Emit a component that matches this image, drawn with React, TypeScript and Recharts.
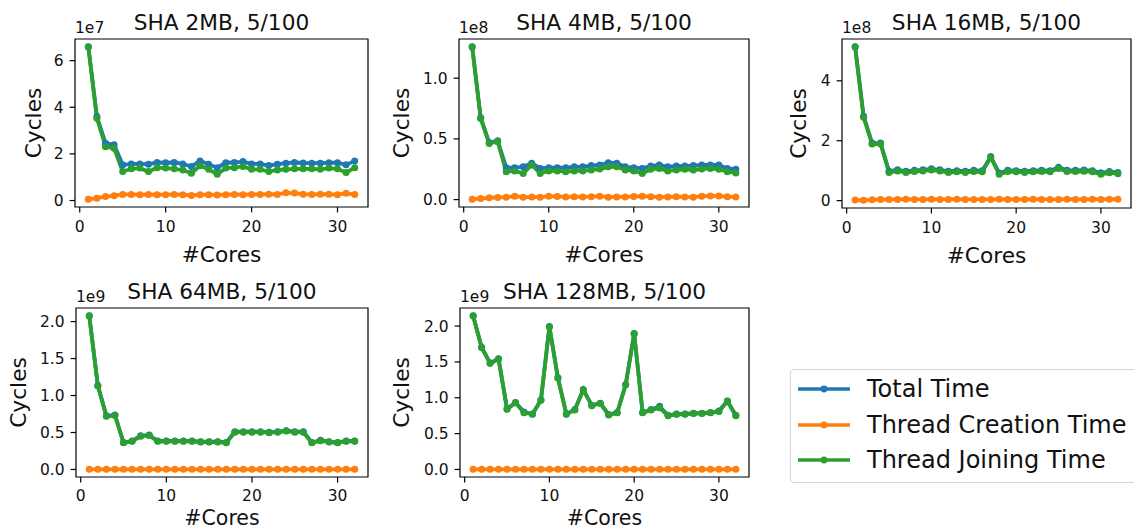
import { LineChart, Line, XAxis, YAxis, ReferenceArea } from "recharts"

// cores on the x axis, same for every panel
const cores = [1, 2, 3, 4, 5, 6, 7, 8, 9, 10, 11, 12, 13, 14, 15, 16, 17, 18, 19, 20, 21, 22, 23, 24, 25, 26, 27, 28, 29, 30, 31, 32]
const xTicks = [0, 10, 20, 30]

const seriesKeys = ["total", "creation", "joining"]
const seriesNames = ["Total Time", "Thread Creation Time", "Thread Joining Time"]
const seriesColors = ["#1f77b4", "#ff7f0e", "#2ca02c"]

// SHA 2MB (x1e7)
const total2MB = [6.6, 3.6, 2.46, 2.39, 1.53, 1.57, 1.57, 1.56, 1.63, 1.62, 1.63, 1.57, 1.46, 1.7, 1.56, 1.41, 1.62, 1.63, 1.67, 1.57, 1.57, 1.5, 1.56, 1.6, 1.63, 1.61, 1.6, 1.6, 1.62, 1.62, 1.53, 1.7]
const creation2MB = [0.05, 0.1, 0.17, 0.21, 0.26, 0.26, 0.25, 0.26, 0.25, 0.25, 0.26, 0.25, 0.22, 0.25, 0.25, 0.24, 0.25, 0.26, 0.25, 0.26, 0.26, 0.27, 0.26, 0.33, 0.32, 0.27, 0.26, 0.27, 0.27, 0.25, 0.31, 0.26]
const joining2MB = [6.58, 3.53, 2.31, 2.24, 1.24, 1.36, 1.39, 1.24, 1.41, 1.39, 1.36, 1.31, 1.17, 1.49, 1.34, 1.13, 1.39, 1.41, 1.46, 1.34, 1.34, 1.24, 1.31, 1.34, 1.36, 1.36, 1.36, 1.34, 1.39, 1.36, 1.2, 1.41]

// SHA 4MB (x1e8)
const total4MB = [1.26, 0.675, 0.47, 0.485, 0.263, 0.263, 0.27, 0.3, 0.257, 0.263, 0.263, 0.263, 0.27, 0.27, 0.28, 0.285, 0.304, 0.3, 0.27, 0.263, 0.257, 0.276, 0.285, 0.27, 0.276, 0.276, 0.28, 0.285, 0.285, 0.285, 0.257, 0.25]
const creation4MB = [0.002, 0.01, 0.015, 0.018, 0.02, 0.028, 0.02, 0.022, 0.02, 0.028, 0.026, 0.022, 0.024, 0.022, 0.024, 0.028, 0.02, 0.022, 0.022, 0.026, 0.028, 0.024, 0.02, 0.022, 0.024, 0.022, 0.02, 0.028, 0.03, 0.03, 0.024, 0.022]
const joining4MB = [1.257, 0.668, 0.463, 0.477, 0.23, 0.236, 0.216, 0.285, 0.216, 0.236, 0.236, 0.23, 0.236, 0.236, 0.244, 0.252, 0.27, 0.27, 0.244, 0.236, 0.216, 0.25, 0.257, 0.236, 0.244, 0.25, 0.244, 0.252, 0.257, 0.25, 0.23, 0.22]

// SHA 16MB (x1e8)
const total16MB = [5.14, 2.82, 1.92, 1.92, 0.98, 1.03, 0.98, 1.01, 1.03, 1.06, 1.03, 0.98, 1.0, 0.98, 1.01, 1.0, 1.47, 0.92, 1.01, 1.0, 0.98, 1.0, 1.01, 1.0, 1.11, 1.01, 1.01, 1.02, 1.0, 0.93, 0.97, 0.94]
const creation16MB = [0.02, 0.01, 0.03, 0.035, 0.04, 0.04, 0.045, 0.04, 0.04, 0.045, 0.04, 0.04, 0.045, 0.04, 0.04, 0.04, 0.04, 0.045, 0.04, 0.04, 0.04, 0.045, 0.04, 0.04, 0.04, 0.045, 0.04, 0.04, 0.045, 0.04, 0.045, 0.045]
const joining16MB = [5.13, 2.78, 1.89, 1.89, 0.94, 0.99, 0.94, 0.97, 0.99, 1.02, 0.99, 0.94, 0.96, 0.94, 0.97, 0.96, 1.44, 0.88, 0.97, 0.96, 0.94, 0.96, 0.97, 0.96, 1.07, 0.97, 0.97, 0.98, 0.96, 0.88, 0.93, 0.9]

// SHA 64MB (x1e9)
const total64MB = [2.08, 1.135, 0.725, 0.735, 0.365, 0.385, 0.455, 0.465, 0.385, 0.385, 0.385, 0.385, 0.385, 0.375, 0.375, 0.375, 0.365, 0.51, 0.51, 0.51, 0.51, 0.502, 0.51, 0.525, 0.51, 0.51, 0.365, 0.395, 0.375, 0.365, 0.385, 0.385]
const creation64MB = [0.002, 0.002, 0.002, 0.002, 0.002, 0.002, 0.002, 0.002, 0.002, 0.002, 0.002, 0.002, 0.002, 0.002, 0.002, 0.002, 0.002, 0.002, 0.002, 0.002, 0.002, 0.002, 0.002, 0.002, 0.002, 0.002, 0.002, 0.002, 0.002, 0.002, 0.002, 0.002]
const joining64MB = [2.077, 1.13, 0.72, 0.73, 0.36, 0.38, 0.45, 0.46, 0.38, 0.38, 0.38, 0.38, 0.38, 0.37, 0.37, 0.37, 0.36, 0.505, 0.505, 0.505, 0.505, 0.497, 0.505, 0.52, 0.505, 0.505, 0.36, 0.39, 0.37, 0.36, 0.38, 0.38]

// SHA 128MB (x1e9)
const total128MB = [2.145, 1.705, 1.485, 1.545, 0.845, 0.935, 0.8, 0.775, 0.97, 1.995, 1.28, 0.775, 0.835, 1.115, 0.895, 0.925, 0.765, 0.795, 1.185, 1.895, 0.795, 0.835, 0.88, 0.755, 0.775, 0.775, 0.785, 0.785, 0.795, 0.815, 0.955, 0.755]
const creation128MB = [0.002, 0.002, 0.002, 0.002, 0.002, 0.002, 0.002, 0.002, 0.002, 0.002, 0.002, 0.002, 0.002, 0.002, 0.002, 0.002, 0.002, 0.002, 0.002, 0.002, 0.002, 0.002, 0.002, 0.002, 0.002, 0.002, 0.002, 0.002, 0.002, 0.002, 0.002, 0.002]
const joining128MB = [2.14, 1.7, 1.48, 1.54, 0.84, 0.93, 0.79, 0.77, 0.965, 1.99, 1.275, 0.77, 0.83, 1.11, 0.89, 0.92, 0.76, 0.79, 1.18, 1.89, 0.79, 0.83, 0.86, 0.75, 0.77, 0.77, 0.78, 0.78, 0.79, 0.81, 0.95, 0.75]

// bottom row sits against the page edge, so its x label is a bit tighter
const topRow = { xLabelOffset: 5.5, xLabelSize: 21.7, xTickMargin: 9 }
const bottomRow = { xLabelOffset: 12.5, xLabelSize: 20.5, xTickMargin: 8 }

const panels = [
  { title: "SHA 2MB, 5/100", exp: "1e7", series: [total2MB, creation2MB, joining2MB], yTicks: [0, 2, 4, 6], decimals: 0, box: { x0: 75, x1: 368, y0: 39, y1: 207 }, labelGap: 42, ...topRow },
  { title: "SHA 4MB, 5/100", exp: "1e8", series: [total4MB, creation4MB, joining4MB], yTicks: [0, 0.5, 1.0], decimals: 1, box: { x0: 459, x1: 749, y0: 39, y1: 207 }, labelGap: 57.5, ...topRow },
  { title: "SHA 16MB, 5/100", exp: "1e8", series: [total16MB, creation16MB, joining16MB], yTicks: [0, 2, 4], decimals: 0, box: { x0: 842, x1: 1131, y0: 39, y1: 208 }, labelGap: 43.5, ...topRow },
  { title: "SHA 64MB, 5/100", exp: "1e9", series: [total64MB, creation64MB, joining64MB], yTicks: [0, 0.5, 1.0, 1.5, 2.0], decimals: 1, box: { x0: 76, x1: 368, y0: 308, y1: 477 }, labelGap: 57.5, ...bottomRow },
  { title: "SHA 128MB, 5/100", exp: "1e9", series: [total128MB, creation128MB, joining128MB], yTicks: [0, 0.5, 1.0, 1.5, 2.0], decimals: 1, box: { x0: 460, x1: 749, y0: 308, y1: 477 }, labelGap: 59, ...bottomRow },
]

const YW = 70
const XH = 60
const MT = 4
const MR = 4
const ink = "#111"

function Panel({ p }: { p: any }) {
  const rows = cores.map((c, i) => {
    const row: any = { cores: c }
    seriesKeys.forEach((k, j) => { row[k] = p.series[j][i] })
    return row
  })
  const all = p.series.flat()
  const lo = Math.min(...all)
  const hi = Math.max(...all)
  const yDomain = [lo - 0.05 * (hi - lo), hi + 0.05 * (hi - lo)]
  const xr = cores[cores.length - 1] - cores[0]
  const xDomain = [cores[0] - 0.05 * xr, cores[cores.length - 1] + 0.05 * xr]
  const { x0, x1, y0, y1 } = p.box
  const w = x1 - x0
  const h = y1 - y0

  return (
    <>
      <div style={{ position: "absolute", left: x0 + w / 2 - 200, width: 400, top: y0 - 29.5, textAlign: "center", fontSize: 21.7, lineHeight: "26px", color: ink }}>
        {p.title}
      </div>
      <div style={{ position: "absolute", left: x0, top: y0 - 20, fontSize: 15.5, lineHeight: "18px", color: ink }}>
        {p.exp}
      </div>
      <div style={{ position: "absolute", left: x0 - YW, top: y0 - MT }}>
        <LineChart width={YW + w + MR} height={MT + h + XH} data={rows} margin={{ top: MT, right: MR, left: 0, bottom: 0 }}>
          <XAxis
            dataKey="cores"
            type="number"
            domain={xDomain}
            ticks={xTicks}
            allowDataOverflow
            height={XH}
            axisLine={false}
            tickSize={5.4}
            tickMargin={p.xTickMargin}
            tickLine={{ stroke: "#000", strokeWidth: 1.2 }}
            tick={{ fill: ink, fontSize: 15.5 }}
            label={{ value: "#Cores", position: "insideBottom", offset: p.xLabelOffset, fontSize: p.xLabelSize, fill: ink }}
          />
          <YAxis
            type="number"
            domain={yDomain}
            ticks={p.yTicks}
            allowDataOverflow
            width={YW}
            axisLine={false}
            tickSize={5.4}
            tickMargin={6}
            tickLine={{ stroke: "#000", strokeWidth: 1.2 }}
            tick={{ fill: ink, fontSize: 15.5 }}
            tickFormatter={(v: number) => v.toFixed(p.decimals)}
            label={{ value: "Cycles", angle: -90, position: "insideLeft", offset: YW - p.labelGap, fontSize: 21.7, fill: ink, style: { textAnchor: "middle" } }}
          />
          <ReferenceArea x1={xDomain[0]} x2={xDomain[1]} y1={yDomain[0]} y2={yDomain[1]} fill="none" stroke="#000" strokeWidth={1.2} />
          {seriesKeys.map((k, j) => (
            <Line
              key={k}
              type="linear"
              dataKey={k}
              stroke={seriesColors[j]}
              strokeWidth={3.8}
              dot={{ r: 3.5, fill: seriesColors[j], stroke: "none" }}
              activeDot={false}
              isAnimationActive={false}
            />
          ))}
        </LineChart>
      </div>
    </>
  )
}

function LegendBox() {
  return (
    <div style={{ position: "absolute", left: 790, top: 369, width: 360, height: 112, border: "1px solid #d6d6d6", borderRadius: 4, background: "#fff" }}>
      {seriesNames.map((name, j) => (
        <div key={name} style={{ position: "absolute", left: 0, top: 19 + 35.5 * j - 14, height: 28, display: "flex", alignItems: "center" }}>
          <svg width={60} height={28} style={{ marginLeft: 6 }}>
            <line x1={1} y1={14} x2={53} y2={14} stroke={seriesColors[j]} strokeWidth={3.6} />
            <circle cx={27} cy={14} r={3.4} fill={seriesColors[j]} />
          </svg>
          <span style={{ marginLeft: 10, fontSize: 24, color: ink, whiteSpace: "nowrap" }}>{name}</span>
        </div>
      ))}
    </div>
  )
}

export default function App() {
  return (
    <div style={{ position: "fixed", left: 0, top: 0, width: 1134, height: 531, overflow: "hidden", background: "#fff", fontFamily: '"DejaVu Sans", sans-serif' }}>
      {panels.map((p) => (
        <Panel key={p.title} p={p} />
      ))}
      <LegendBox />
    </div>
  )
}
